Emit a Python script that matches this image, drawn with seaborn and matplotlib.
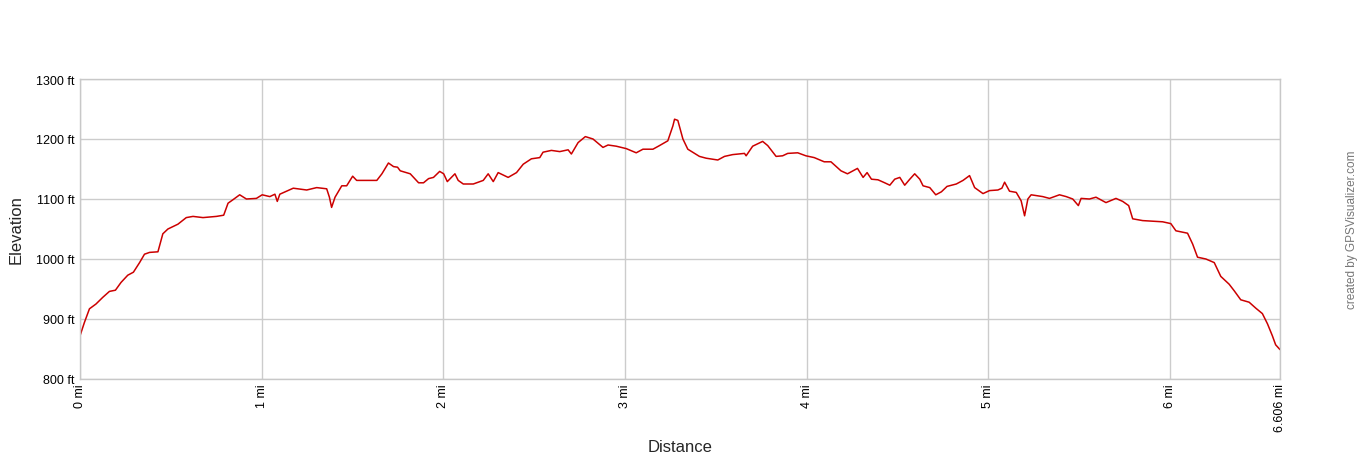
import matplotlib
matplotlib.use("Agg")
import matplotlib.pyplot as plt
import seaborn as sns
import pandas as pd

# elevation profile (miles, feet)
dist_mi = [
    0.000, 0.024, 0.052, 0.088, 0.125, 0.162, 0.195, 0.226, 0.263, 0.294,
    0.328, 0.355, 0.383, 0.429, 0.456, 0.484, 0.539, 0.585, 0.622, 0.677,
    0.751, 0.791, 0.815, 0.843, 0.879, 0.916, 0.971, 1.003, 1.045, 1.073,
    1.086, 1.100, 1.174, 1.248, 1.303, 1.358, 1.373, 1.385, 1.404, 1.441,
    1.468, 1.501, 1.523, 1.579, 1.634, 1.662, 1.698, 1.726, 1.748, 1.763,
    1.818, 1.864, 1.891, 1.919, 1.946, 1.980, 2.002, 2.022, 2.064, 2.082,
    2.110, 2.165, 2.220, 2.247, 2.275, 2.302, 2.357, 2.403, 2.440, 2.485,
    2.531, 2.549, 2.595, 2.641, 2.687, 2.705, 2.742, 2.782, 2.824, 2.879,
    2.907, 2.952, 3.007, 3.062, 3.099, 3.154, 3.190, 3.236, 3.264, 3.273,
    3.291, 3.319, 3.346, 3.410, 3.447, 3.511, 3.548, 3.593, 3.658, 3.667,
    3.703, 3.758, 3.786, 3.832, 3.868, 3.896, 3.951, 3.996, 4.042, 4.097,
    4.134, 4.189, 4.225, 4.280, 4.311, 4.333, 4.357, 4.393, 4.430, 4.458,
    4.485, 4.513, 4.540, 4.568, 4.595, 4.623, 4.641, 4.678, 4.711, 4.742,
    4.773, 4.824, 4.861, 4.897, 4.925, 4.971, 5.007, 5.053, 5.075, 5.090,
    5.117, 5.154, 5.181, 5.200, 5.218, 5.236, 5.300, 5.337, 5.392, 5.429,
    5.465, 5.496, 5.511, 5.557, 5.593, 5.648, 5.703, 5.740, 5.773, 5.795,
    5.850, 5.905, 5.960, 6.005, 6.033, 6.097, 6.125, 6.152, 6.198, 6.244,
    6.280, 6.326, 6.354, 6.390, 6.436, 6.473, 6.509, 6.537, 6.564, 6.582,
    6.606,
]
elev_ft = [
    872, 894, 917, 925, 936, 946, 948, 961, 973, 978,
    994, 1008, 1011, 1012, 1042, 1050, 1058, 1069, 1071, 1069,
    1071, 1073, 1093, 1099, 1107, 1100, 1101, 1107, 1104, 1108,
    1096, 1108, 1118, 1115, 1119, 1117, 1103, 1086, 1103, 1122,
    1122, 1138, 1131, 1131, 1131, 1142, 1160, 1154, 1153, 1147,
    1142, 1127, 1127, 1134, 1136, 1146, 1142, 1129, 1142, 1131,
    1125, 1125, 1131, 1142, 1129, 1144, 1136, 1144, 1158, 1167,
    1169, 1178, 1181, 1179, 1182, 1175, 1194, 1204, 1200, 1186,
    1190, 1188, 1184, 1177, 1183, 1183, 1189, 1197, 1222, 1233,
    1231, 1200, 1183, 1171, 1168, 1165, 1171, 1174, 1176, 1172,
    1188, 1196, 1189, 1171, 1172, 1176, 1177, 1172, 1169, 1162,
    1162, 1147, 1142, 1151, 1136, 1144, 1133, 1132, 1127, 1123,
    1133, 1136, 1123, 1133, 1142, 1133, 1122, 1119, 1107, 1112,
    1121, 1125, 1131, 1139, 1119, 1109, 1114, 1115, 1118, 1128,
    1113, 1111, 1097, 1072, 1100, 1107, 1104, 1101, 1107, 1104,
    1100, 1089, 1101, 1100, 1103, 1094, 1101, 1096, 1089, 1067,
    1064, 1063, 1062, 1059, 1047, 1043, 1025, 1003, 1000, 994,
    971, 958, 947, 932, 928, 918, 909, 892, 872, 857,
    849,
]

x_ticks = [0, 1, 2, 3, 4, 5, 6, 6.606]
x_tick_labels = ["0 mi", "1 mi", "2 mi", "3 mi", "4 mi", "5 mi", "6 mi", "6.606 mi"]
y_ticks = [800, 900, 1000, 1100, 1200, 1300]
y_tick_labels = ["800 ft", "900 ft", "1000 ft", "1100 ft", "1200 ft", "1300 ft"]

df = pd.DataFrame({"dist": dist_mi, "elev": elev_ft})

sns.set_style("white")
plt.rcParams["font.family"] = ["Liberation Sans", "DejaVu Sans"]

fig = plt.figure(figsize=(13.6, 4.6), dpi=100)
ax = fig.add_axes([80 / 1360, 80 / 460, 1200 / 1360, 300 / 460])

sns.lineplot(data=df, x="dist", y="elev", ax=ax, color="#cc0000", linewidth=1.1)

ax.set_xlim(0, 6.606)
ax.set_ylim(800, 1300)
ax.set_xticks(x_ticks)
ax.set_xticklabels(x_tick_labels, rotation=90, fontsize=9)
ax.set_yticks(y_ticks)
ax.set_yticklabels(y_tick_labels, fontsize=9)
ax.tick_params(axis="y", length=0, pad=4, colors="#000000")
ax.tick_params(axis="x", length=0, pad=3, colors="#000000")
ax.grid(True, color="#cccccc", linewidth=1)
for s in ax.spines.values():
    s.set_color("#c8c8c8")
    s.set_linewidth(1)

ax.set_xlabel("Distance", fontsize=12)
ax.set_ylabel("Elevation", fontsize=12)
ax.xaxis.set_label_coords(0.5, -0.2)
ax.yaxis.set_label_coords(-0.047, 0.5)

fig.text(1352 / 1360, 230 / 460, "created by GPSVisualizer.com", rotation=90,
         ha="center", va="center", fontsize=8.5, color="#777777")

fig.savefig("out.png", dpi=100, facecolor="white")
